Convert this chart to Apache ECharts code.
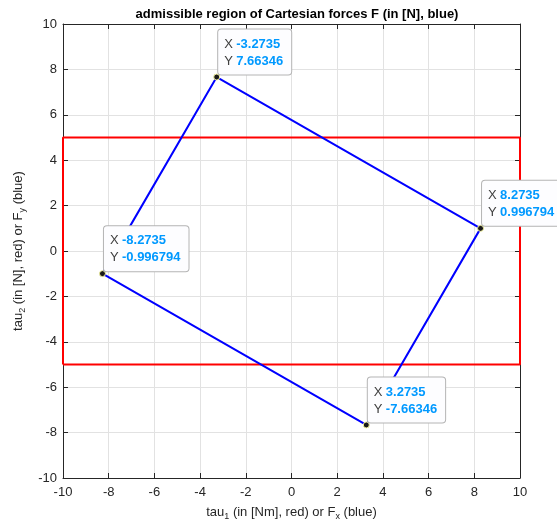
<!DOCTYPE html>
<html>
<head>
<meta charset="utf-8">
<script src="https://cdn.jsdelivr.net/npm/echarts@6/dist/echarts.min.js"></script>
<style>
html,body{margin:0;padding:0;background:#fff;}
#c{width:557px;height:526px;}
</style>
</head>
<body>
<div id="c"></div>
<script>
// Data
const cornerX = [-3.2735, 8.2735, 3.2735, -8.2735];
const cornerY = [7.66346, 0.996794, -7.66346, -0.996794];
const tipX = ['-3.2735', '8.2735', '3.2735', '-8.2735'];
const tipY = ['7.66346', '0.996794', '-7.66346', '-0.996794'];
const rectX = [-10, 10, 10, -10, -10];
const rectY = [-5, -5, 5, 5, -5];
const axisMin = -10, axisMax = 10, axisStep = 2;

const polyData = cornerX.map((x, i) => [x, cornerY[i]]);
polyData.push([cornerX[0], cornerY[0]]);
const rectData = rectX.map((x, i) => [x, rectY[i]]);
const tipData = cornerX.map((x, i) => ({ value: [x, cornerY[i]], tx: tipX[i], ty: tipY[i] }));

const FONT = 'Liberation Sans, Arial, Helvetica, sans-serif';
const AX = '#262626';
const GRIDC = '#e2e2e2';

function baseAxis(extra) {
  return Object.assign({
    type: 'value', min: axisMin, max: axisMax, interval: axisStep,
    axisLine: { show: true, onZero: false, lineStyle: { color: AX, width: 1 } },
    axisTick: { show: true, inside: true, length: 5, lineStyle: { color: AX } },
    splitLine: { show: true, lineStyle: { color: GRIDC, width: 1 } },
    axisLabel: { show: true, color: AX, fontSize: 13, fontFamily: FONT }
  }, extra);
}

const nameRich = {
  a: { fontSize: 13, fontFamily: FONT, color: AX, lineHeight: 18 },
  s: { fontSize: 9, fontFamily: FONT, color: AX, lineHeight: 9, verticalAlign: 'bottom' }
};

const chart = echarts.init(document.getElementById('c'), null, { renderer: 'canvas' });
chart.setOption({
  animation: false,
  backgroundColor: '#fff',
  title: {
    text: 'admissible region of Cartesian forces F (in [N], blue)',
    left: 292, top: 3, textAlign: 'center',
    textStyle: { fontSize: 13, fontWeight: 'bold', color: '#000', fontFamily: FONT }
  },
  grid: { left: 63, right: 37, top: 24, bottom: 44, containLabel: false },
  xAxis: [
    baseAxis({
      position: 'bottom',
      name: '{a|tau}{s|1}{a| (in [Nm], red) or F}{s|x}{a| (blue)}',
      nameLocation: 'middle', nameGap: 25,
      nameTextStyle: { rich: nameRich },
      axisLabel: { show: true, color: AX, fontSize: 13, fontFamily: FONT, margin: 8 }
    }),
    baseAxis({ position: 'top', axisLabel: { show: false }, splitLine: { show: false } })
  ],
  yAxis: [
    baseAxis({
      position: 'left',
      name: '{a|tau}{s|2}{a| (in [N], red) or F}{s|y}{a| (blue)}',
      nameLocation: 'middle', nameGap: 24, nameRotate: 90,
      nameTextStyle: { rich: nameRich },
      axisLabel: { show: true, color: AX, fontSize: 13, fontFamily: FONT, margin: 6 }
    }),
    baseAxis({ position: 'right', axisLabel: { show: false }, splitLine: { show: false } })
  ],
  series: [
    {
      type: 'line', data: rectData, xAxisIndex: 0, yAxisIndex: 0,
      showSymbol: false, clip: false, z: 3,
      lineStyle: { color: '#ff0000', width: 2 }
    },
    {
      type: 'line', data: polyData, xAxisIndex: 0, yAxisIndex: 0,
      showSymbol: false, clip: false, z: 4,
      lineStyle: { color: '#0000ff', width: 2 }
    },
    {
      type: 'scatter', data: tipData, xAxisIndex: 0, yAxisIndex: 0,
      symbolSize: 6, z: 10, zlevel: 1, clip: false,
      itemStyle: { color: '#1a1a1a', borderColor: '#f2f2a0', borderWidth: 1, opacity: 1 },
      label: {
        show: true,
        opacity: 1,
        position: [5, 1],
        align: 'left', verticalAlign: 'bottom',
        backgroundColor: '#fdfdff',
        borderColor: '#b4b4b4', borderWidth: 1, borderRadius: 3,
        padding: [6, 8, 5, 6],
        formatter: function (p) {
          return '{k|X} {v|' + p.data.tx + '}\n{k|Y} {v|' + p.data.ty + '}';
        },
        rich: {
          k: { fontSize: 13, fontFamily: FONT, color: '#404040', lineHeight: 17 },
          v: { fontSize: 13, fontFamily: FONT, color: '#0099ff', fontWeight: 'bold', lineHeight: 17 }
        }
      }
    }
  ]
});
</script>
</body>
</html>
